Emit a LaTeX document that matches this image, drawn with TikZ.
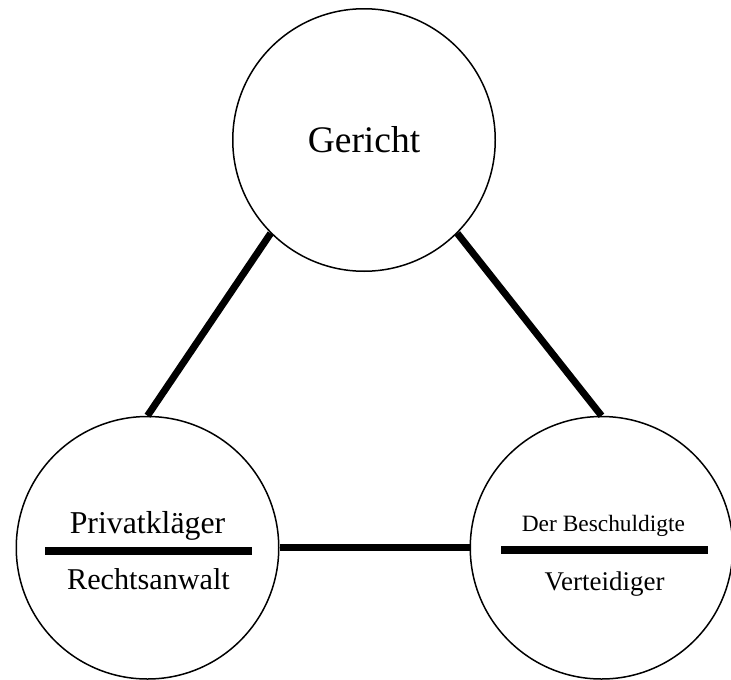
\documentclass[tikz,border=0pt]{standalone}
\usepackage{fontspec}
\setmainfont{Liberation Serif}
\usetikzlibrary{calc}
\begin{document}
\begin{tikzpicture}[x=1pt,y=-1pt,
  party/.style={circle, draw, line width=1.5pt, minimum size=262.5pt, inner sep=0pt},
  link/.style={line width=7pt},
  divider/.style={line width=8pt},
  lbl/.style={anchor=base, inner sep=0pt}]
\useasboundingbox (0,0) rectangle (731,680);
\node[party, font=\fontsize{37.5}{44}\selectfont] (G) at (364,140) {Gericht};
\node[party] (P) at (147.5,547.75) {};
\node[party] (B) at (601.5,547.75) {};
% connectors
\draw[link] (G.south west) -- (P.north);
\draw[link] (G.south east) -- (B.north);
\draw[link] (P.east) -- (B.west);
% dividers
\draw[divider] ($(P.center)+(-102.5,3)$) coordinate (pl) -- ($(P.center)+(104.5,3)$) coordinate (pr);
\draw[divider] ($(B.center)+(-100.5,2.5)$) coordinate (bl) -- ($(B.center)+(106.5,2.5)$) coordinate (br);
% labels
\node[lbl, font=\fontsize{31.8}{38}\selectfont] (p1) at (147.5,533.3) {Privatkläger};
\node[lbl, font=\fontsize{30.2}{36}\selectfont] (p2) at (148.5,589) {Rechtsanwalt};
\node[lbl, font=\fontsize{23.4}{28}\selectfont] (b1) at (603.4,531.7) {Der Beschuldigte};
\node[lbl, font=\fontsize{27}{32}\selectfont] (b2) at (604.5,590) {Verteidiger};
\end{tikzpicture}
\end{document}
